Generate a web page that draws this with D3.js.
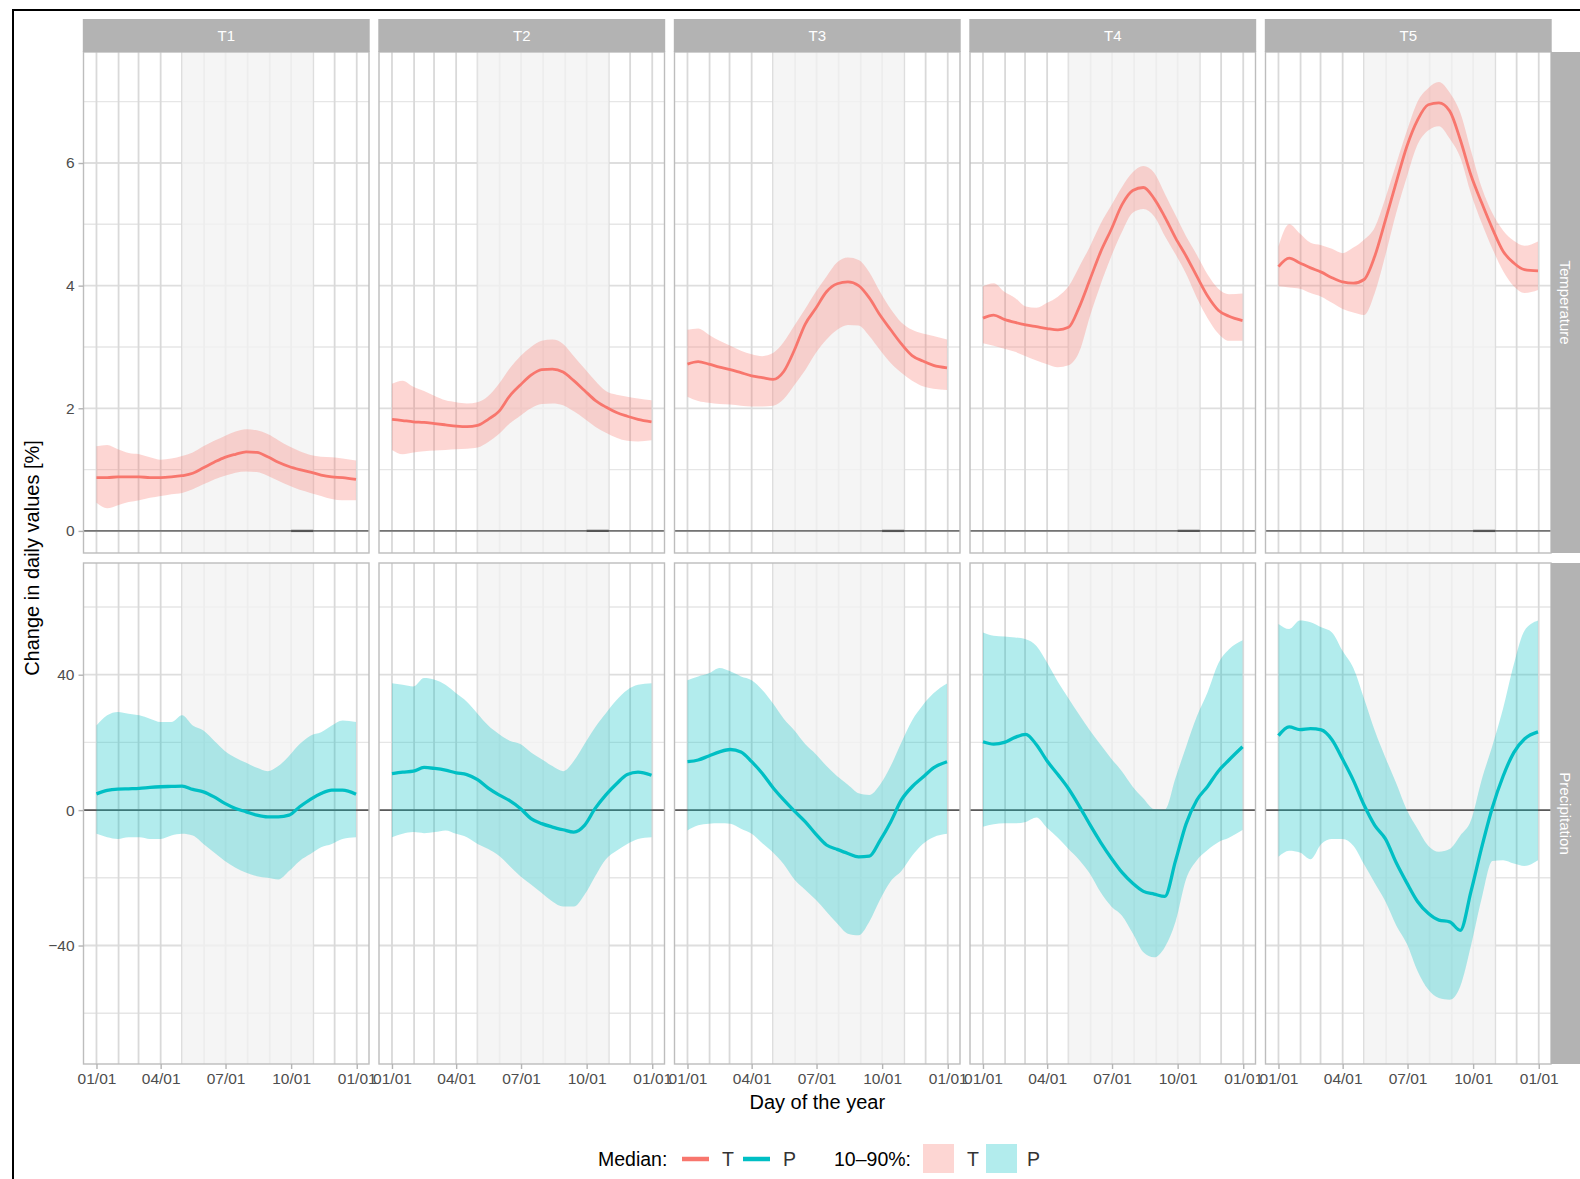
<!DOCTYPE html>
<html>
<head>
<meta charset="utf-8">
<script src="https://cdn.jsdelivr.net/npm/d3@7"></script>
<style>
  body { margin: 0; background: #fff; }
  svg { display: block; font-family: "Liberation Sans", Arial, Helvetica, sans-serif; }
</style>
</head>
<body>
<svg id="chart" width="1580" height="1179"></svg>
<script>
// ---- data -------------------------------------------------------------
const panelNames = ["T1", "T2", "T3", "T4", "T5"];
const rowNames = ["Temperature", "Precipitation"];

// day of year (0 = 1 January)
const days = [0, 15, 30, 45, 60, 75, 90, 105, 120, 135, 150, 165, 180, 195, 210, 225, 240, 255, 270, 285, 300, 315, 330, 345, 364];
const monthStarts = [0, 31, 59, 90, 120, 151, 181, 212, 243, 273, 304, 334, 365];
const xTickDays = [0, 90, 181, 273, 365];
const xTickLabels = ["01/01", "04/01", "07/01", "10/01", "01/01"];
const seasonDays = [120, 304];
const zeroMarkDays = [273, 304];

const tempTicks = [0, 2, 4, 6];
const tempMinor = [1, 3, 5, 7];
const precTicks = [-40, 0, 40];
const precMinor = [-60, -20, 20, 60];

// temperature change, one array per panel T1..T5
const tempMedian = [
  [0.87,0.87,0.88,0.88,0.88,0.87,0.87,0.88,0.90,0.94,1.03,1.12,1.20,1.25,1.29,1.28,1.21,1.12,1.05,1.00,0.96,0.91,0.88,0.87,0.84],
  [1.82,1.80,1.78,1.77,1.75,1.73,1.71,1.70,1.72,1.82,1.95,2.20,2.38,2.54,2.63,2.64,2.59,2.45,2.29,2.13,2.02,1.93,1.87,1.82,1.78],
  [2.72,2.76,2.72,2.67,2.63,2.58,2.53,2.50,2.47,2.60,2.95,3.37,3.63,3.90,4.03,4.06,4.00,3.80,3.52,3.28,3.05,2.86,2.77,2.70,2.66],
  [3.47,3.52,3.45,3.40,3.36,3.33,3.30,3.28,3.32,3.65,4.10,4.55,4.92,5.32,5.55,5.60,5.42,5.12,4.78,4.48,4.15,3.83,3.60,3.50,3.43],
  [4.31,4.45,4.37,4.29,4.22,4.13,4.06,4.04,4.10,4.48,5.07,5.68,6.27,6.70,6.95,6.98,6.85,6.38,5.80,5.35,4.93,4.56,4.37,4.26,4.24]
];
const tempLow = [
  [0.46,0.37,0.42,0.47,0.50,0.54,0.57,0.60,0.62,0.68,0.76,0.84,0.90,0.95,0.97,0.96,0.90,0.82,0.74,0.67,0.62,0.57,0.52,0.50,0.50],
  [1.32,1.25,1.28,1.30,1.31,1.32,1.33,1.34,1.36,1.45,1.58,1.75,1.88,2.00,2.07,2.08,2.05,1.95,1.83,1.70,1.60,1.52,1.47,1.46,1.48],
  [2.19,2.12,2.09,2.07,2.06,2.04,2.03,2.03,2.04,2.15,2.38,2.62,2.90,3.12,3.28,3.36,3.35,3.18,2.95,2.74,2.58,2.45,2.36,2.32,2.30],
  [3.06,3.02,2.97,2.92,2.85,2.78,2.72,2.67,2.70,2.92,3.50,4.02,4.48,4.88,5.19,5.25,5.13,4.81,4.51,4.19,3.80,3.47,3.22,3.10,3.10],
  [3.99,3.97,3.95,3.88,3.82,3.72,3.62,3.56,3.52,3.88,4.50,5.18,5.77,6.30,6.53,6.60,6.40,6.09,5.50,5.02,4.60,4.24,3.99,3.88,3.93]
];
const tempHigh = [
  [1.38,1.40,1.33,1.27,1.25,1.20,1.16,1.18,1.22,1.28,1.38,1.47,1.55,1.62,1.66,1.64,1.58,1.48,1.38,1.30,1.24,1.21,1.20,1.18,1.15],
  [2.40,2.45,2.35,2.28,2.20,2.13,2.10,2.08,2.10,2.20,2.40,2.65,2.85,3.00,3.10,3.12,3.05,2.85,2.65,2.45,2.28,2.22,2.19,2.16,2.13],
  [3.28,3.30,3.20,3.10,3.02,2.94,2.88,2.85,2.90,3.08,3.35,3.62,3.90,4.15,4.38,4.46,4.42,4.22,3.90,3.62,3.40,3.28,3.22,3.18,3.12],
  [3.99,4.04,3.90,3.80,3.66,3.64,3.72,3.82,3.99,4.31,4.64,5.01,5.31,5.61,5.85,5.95,5.84,5.50,5.15,4.80,4.50,4.18,3.95,3.86,3.87],
  [4.64,5.00,4.85,4.70,4.66,4.60,4.53,4.62,4.75,4.95,5.43,5.98,6.52,7.00,7.22,7.32,7.15,6.82,6.20,5.60,5.18,4.90,4.73,4.65,4.72]
];

// precipitation change, one array per panel T1..T5
const precMedian = [
  [4.8,5.8,6.2,6.3,6.4,6.7,6.9,7.0,7.1,6.1,5.4,3.9,2.0,0.5,-0.5,-1.5,-2.0,-2.0,-1.5,1.0,3.2,4.9,5.9,5.9,4.7],
  [10.8,11.2,11.5,12.6,12.3,11.8,11.0,10.5,9.0,6.5,4.5,2.8,0.5,-2.5,-4.0,-5.0,-5.8,-6.5,-4.5,0.5,4.5,7.8,10.5,11.2,10.3],
  [14.3,14.8,16.0,17.2,17.9,17.2,14.3,10.8,6.6,3.0,-0.3,-3.4,-7.1,-10.3,-11.6,-12.8,-13.8,-13.6,-9.0,-3.5,3.0,6.9,9.7,12.5,14.3],
  [20.2,19.5,20.0,21.5,22.4,19.3,14.5,10.5,6.3,1.2,-4.3,-9.5,-14.2,-18.4,-21.6,-24.0,-24.8,-25.5,-15.0,-4.0,3.0,7.0,11.5,14.8,18.7],
  [22.0,24.6,23.8,24.1,23.7,20.8,15.0,8.8,1.5,-4.5,-8.5,-15.5,-21.5,-27.0,-30.5,-32.5,-33.0,-35.5,-24.0,-11.0,0.8,10.0,17.0,21.0,23.1]
];
const precLow = [
  [-7,-8,-8.5,-8,-8,-8.5,-8.5,-7.5,-7,-7.5,-10,-12.5,-15,-17,-18.5,-19.5,-20,-20.5,-18,-15,-13,-11,-10,-8.5,-8],
  [-8,-7,-6.5,-6.8,-6.5,-6,-7,-8,-10,-11.5,-13.5,-16.5,-19.5,-22,-24.5,-27,-28.5,-28.5,-25,-19.5,-14.5,-12,-10,-8.5,-8],
  [-6,-4.5,-4,-3.9,-4,-5.5,-7,-9.8,-12.5,-16,-20.5,-23.5,-26.5,-30,-33.5,-36.5,-37,-33,-26.5,-21,-18,-13.5,-10,-8,-7],
  [-4.9,-4.2,-3.9,-3.9,-3.5,-2.2,-5.3,-8.2,-11.5,-14.7,-18.8,-24.3,-28.5,-31.2,-36.4,-42,-43.5,-40.5,-33,-20.3,-14.8,-11.8,-9.5,-8.2,-5.9],
  [-13.8,-12,-12.5,-14.5,-10,-8.5,-8.5,-10.5,-16,-21.5,-27,-34,-39.5,-47.5,-53,-55.5,-56,-52,-40,-26,-15,-14.8,-15.8,-16.5,-14.8]
];
const precHigh = [
  [25,28,29,28.5,28,27,26,26,28,25,23.5,20.5,17.5,15.5,14,12.5,11.5,13,16,19.5,22,23,25,26.5,26],
  [37.5,37,36.5,39,38.5,37,34.5,32,28.5,25,22.5,20.5,19.5,17,15,13,11.5,14.5,19.5,24.5,28.6,32.5,35.5,37,37.5],
  [38.4,39.5,40.4,42,41,39.5,38.4,35.5,31.5,27,23.5,19.5,16.5,13,10,7.5,5.0,4.5,7.5,13,20,26.5,31,34.5,37.4],
  [52.5,51.5,51.3,51,50.5,48.5,43.5,37.9,33,28.2,23.5,19.3,15.2,11.4,6.9,3.4,0.3,0.2,9.5,18.8,27.7,34.8,43.3,47.5,50.2],
  [55,53.5,56,55.5,54,52.5,47,42,33,23.5,15.5,8,0,-5.5,-10.5,-12.3,-11.5,-7.5,-3,9,19,30,43,53,56]
];

// ---- layout -----------------------------------------------------------
const svg = d3.select("#chart");
const COL = { T: "#F8766D", P: "#00BFC4" };
const panelW = 285.5, panelGap = 10, panelLeft0 = 83.5;
const panelH = 501, rowTops = [52, 563];
const stripTop = 19, stripH = 33;
const axisGrey = "#4D4D4D";

const rows = [
  { name: rowNames[0], key: "T", med: tempMedian, lo: tempLow, hi: tempHigh,
    domain: [-0.36, 7.81], ticks: tempTicks, minor: tempMinor, zeroCol: "#747474", fmt: d => d },
  { name: rowNames[1], key: "P", med: precMedian, lo: precLow, hi: precHigh,
    domain: [-75, 73], ticks: precTicks, minor: precMinor, zeroCol: "#5a5a5a", fmt: d => d < 0 ? "\u2212" + Math.abs(d) : d }
];

// outer frame
svg.append("line").attr("x1", 12).attr("x2", 1580).attr("y1", 10).attr("y2", 10)
  .attr("stroke", "#000").attr("stroke-width", 2);
svg.append("line").attr("x1", 13).attr("x2", 13).attr("y1", 9).attr("y2", 1179)
  .attr("stroke", "#000").attr("stroke-width", 2);

const defs = svg.append("defs");

rows.forEach((row, r) => {
  const top = rowTops[r];
  const y = d3.scaleLinear().domain(row.domain).range([top + panelH, top]);

  panelNames.forEach((pname, c) => {
    const left = panelLeft0 + c * (panelW + panelGap);
    const x = d3.scaleLinear().domain([-18.2, 382.2]).range([left, left + panelW]);
    const clipId = `clip-${r}-${c}`;
    defs.append("clipPath").attr("id", clipId)
      .append("rect").attr("x", left).attr("y", top).attr("width", panelW).attr("height", panelH);

    const g = svg.append("g").attr("clip-path", `url(#${clipId})`);
    g.append("rect").attr("x", left).attr("y", top).attr("width", panelW).attr("height", panelH).attr("fill", "#fff");

    // horizontal grid
    g.selectAll(".hmin").data(row.minor).join("line")
      .attr("x1", left).attr("x2", left + panelW)
      .attr("y1", d => y(d)).attr("y2", d => y(d))
      .attr("stroke", "#e6e6e6").attr("stroke-width", 1.4);
    g.selectAll(".hmaj").data(row.ticks).join("line")
      .attr("x1", left).attr("x2", left + panelW)
      .attr("y1", d => y(d)).attr("y2", d => y(d))
      .attr("stroke", "#dedede").attr("stroke-width", 1.8);
    // monthly vertical grid
    g.selectAll(".vgrid").data(monthStarts).join("line")
      .attr("x1", d => x(d)).attr("x2", d => x(d))
      .attr("y1", top).attr("y2", top + panelH)
      .attr("stroke", "#d9d9d9").attr("stroke-width", 1.8);

    // growing-season shading
    g.append("rect")
      .attr("x", x(seasonDays[0])).attr("width", x(seasonDays[1]) - x(seasonDays[0]))
      .attr("y", top).attr("height", panelH)
      .attr("fill", "#f2f2f2").attr("fill-opacity", 0.78);

    // zero reference line
    g.append("line").attr("x1", left).attr("x2", left + panelW)
      .attr("y1", y(0)).attr("y2", y(0))
      .attr("stroke", row.zeroCol).attr("stroke-width", 1.9);
    if (r === 0) {
      g.append("line").attr("x1", x(zeroMarkDays[0])).attr("x2", x(zeroMarkDays[1]))
        .attr("y1", y(0)).attr("y2", y(0))
        .attr("stroke", "#555").attr("stroke-width", 2.3);
    }

    const pts = days.map((d, i) => ({ day: d, m: row.med[c][i], lo: row.lo[c][i], hi: row.hi[c][i] }));

    // 10-90% band
    g.append("path").datum(pts)
      .attr("d", d3.area().x(d => x(d.day)).y0(d => y(d.lo)).y1(d => y(d.hi)).curve(d3.curveMonotoneX))
      .attr("fill", COL[row.key]).attr("fill-opacity", 0.3);
    // median
    g.append("path").datum(pts)
      .attr("d", d3.line().x(d => x(d.day)).y(d => y(d.m)).curve(d3.curveMonotoneX))
      .attr("fill", "none").attr("stroke", COL[row.key])
      .attr("stroke-width", r === 0 ? 2.8 : 3.3).attr("stroke-linejoin", "round");

    // panel border
    svg.append("rect").attr("x", left).attr("y", top).attr("width", panelW).attr("height", panelH)
      .attr("fill", "none").attr("stroke", "#bdbdbd").attr("stroke-width", 1.4);

    // column strips on top row
    if (r === 0) {
      svg.append("rect").attr("x", left - 0.7).attr("y", stripTop).attr("width", panelW + 1.4).attr("height", stripH)
        .attr("fill", "#B3B3B3");
      svg.append("text").attr("x", left + panelW / 2).attr("y", stripTop + stripH / 2)
        .attr("dy", "0.36em").attr("text-anchor", "middle")
        .attr("fill", "#fff").attr("font-size", 15).text(pname);
    }

    // y axis on the first column
    if (c === 0) {
      const ax = svg.append("g").attr("transform", `translate(${left},0)`)
        .call(d3.axisLeft(y).tickValues(row.ticks).tickFormat(row.fmt).tickSize(5).tickPadding(4));
      ax.select(".domain").remove();
      ax.selectAll(".tick line").attr("stroke", "#b3b3b3").attr("stroke-width", 1.4);
      ax.selectAll(".tick text").attr("fill", axisGrey).attr("font-size", 15.5)
        .attr("font-family", "Liberation Sans, Arial, sans-serif");
    }

    // x axis on the bottom row
    if (r === 1) {
      const ax = svg.append("g").attr("transform", `translate(0,${top + panelH})`)
        .call(d3.axisBottom(x).tickValues(xTickDays).tickFormat((d, i) => xTickLabels[i]).tickSize(5).tickPadding(4));
      ax.select(".domain").remove();
      ax.selectAll(".tick line").attr("stroke", "#b3b3b3").attr("stroke-width", 1.4);
      ax.selectAll(".tick text").attr("fill", axisGrey).attr("font-size", 15.5)
        .attr("font-family", "Liberation Sans, Arial, sans-serif");
    }
  });

  // row strip on the right
  const stripX = panelLeft0 + 5 * panelW + 4 * panelGap;
  svg.append("rect").attr("x", stripX).attr("y", top).attr("width", stripH).attr("height", panelH)
    .attr("fill", "#B3B3B3");
  svg.append("text")
    .attr("transform", `translate(${stripX + stripH / 2 - 2},${top + panelH / 2}) rotate(90)`)
    .attr("text-anchor", "middle").attr("dy", "0.36em")
    .attr("fill", "#fff").attr("font-size", 15).text(row.name);
});

// axis titles
svg.append("text")
  .attr("transform", `translate(32,${(rowTops[0] + rowTops[1] + panelH) / 2}) rotate(-90)`)
  .attr("text-anchor", "middle").attr("dy", "0.36em")
  .attr("font-size", 20).attr("fill", "#000").text("Change in daily values [%]");
svg.append("text")
  .attr("x", (panelLeft0 + panelLeft0 + 5 * panelW + 4 * panelGap) / 2).attr("y", 1109)
  .attr("text-anchor", "middle").attr("font-size", 20).attr("fill", "#000").text("Day of the year");

// legend
const lg = svg.append("g").attr("font-size", 19.5);
const legY = 1159;
lg.append("text").attr("x", 598).attr("y", legY).attr("dy", "0.36em").attr("fill", "#000").text("Median:");
[["T", 682, 722], ["P", 743, 783]].forEach(([k, x0, tx]) => {
  lg.append("line").attr("x1", x0).attr("x2", x0 + 27).attr("y1", legY).attr("y2", legY)
    .attr("stroke", COL[k]).attr("stroke-width", 4.5);
  lg.append("text").attr("x", tx).attr("y", legY).attr("dy", "0.36em").attr("fill", "#333").text(k);
});
lg.append("text").attr("x", 834).attr("y", legY).attr("dy", "0.36em").attr("fill", "#000").text("10\u201390%:");
[["T", 923, 967], ["P", 986, 1027]].forEach(([k, x0, tx]) => {
  lg.append("rect").attr("x", x0).attr("y", legY - 15).attr("width", 31).attr("height", 29)
    .attr("fill", COL[k]).attr("fill-opacity", 0.3);
  lg.append("text").attr("x", tx).attr("y", legY).attr("dy", "0.36em").attr("fill", "#333").text(k);
});
</script>
</body>
</html>
